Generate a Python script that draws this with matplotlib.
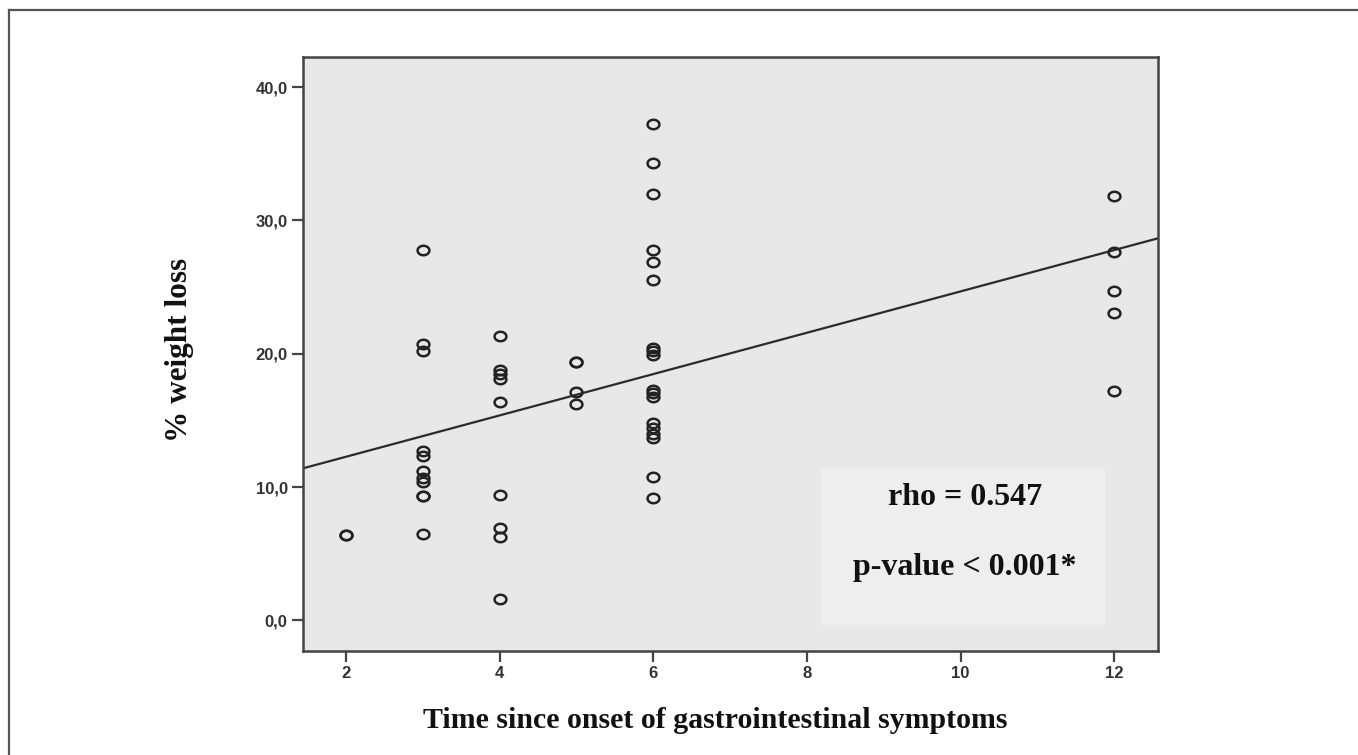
import matplotlib.pyplot as plt
import numpy as np
from matplotlib.path import Path
from matplotlib.lines import Line2D
from matplotlib.patches import Rectangle

# months since onset vs % weight loss
months = [2, 2,
          3, 3, 3, 3, 3, 3, 3, 3, 3, 3, 3,
          4, 4, 4, 4, 4, 4, 4, 4, 4,
          5, 5, 5, 5,
          6, 6, 6, 6, 6, 6, 6, 6, 6, 6, 6, 6, 6, 6, 6, 6, 6, 6,
          12, 12, 12, 12, 12]
weight_loss = [6.4, 6.4,
               27.8, 20.7, 20.2, 12.7, 12.3, 11.2, 10.7, 10.4, 9.3, 9.3, 6.5,
               21.35, 18.75, 18.45, 18.1, 16.4, 9.4, 6.9, 6.25, 1.6,
               19.4, 19.4, 17.1, 16.25,
               37.25, 34.3, 32.0, 27.75, 26.9, 25.5, 20.45, 20.2, 19.9,
               17.3, 17.05, 16.75, 14.8, 14.4, 14.0, 13.7, 10.75, 9.2,
               31.8, 27.6, 24.7, 23.05, 17.2]

# fit line as drawn in the figure
fit_intercept = 9.17
fit_slope = 1.55

x_ticks = [2, 4, 6, 8, 10, 12]
y_ticks = [0, 10, 20, 30, 40]
y_ticklabels = ["0,0", "10,0", "20,0", "30,0", "40,0"]

rho_text = "rho = 0.547"
p_text = "p-value < 0.001*"

fig = plt.figure(figsize=(13.58, 7.55), dpi=100)
ax = fig.add_axes([0.2231, 0.1377, 0.6296, 0.7868])
ax.set_facecolor("#e8e8e8")

xlim = (1.44, 12.57)
ax.set_xlim(*xlim)
ax.set_ylim(-2.3, 42.25)

# stats box behind everything
ax.add_patch(Rectangle((0.605, 0.044), 0.333, 0.264, transform=ax.transAxes,
                       facecolor="#eeeeee", edgecolor="#e9e9e9", lw=0.8, zorder=1))

xs = np.array(xlim)
ax.plot(xs, fit_intercept + fit_slope * xs, color="#2b2b2b", lw=1.6, zorder=2)

# slightly wide ellipse marker like the original
t = np.linspace(0, 2 * np.pi, 60)
ell = Path(np.column_stack([np.cos(t), 0.8 * np.sin(t)]), closed=True)
ax.plot(months, weight_loss, linestyle="none", marker=ell, markersize=8.5,
        markerfacecolor="none", markeredgecolor="#222222", markeredgewidth=1.8, zorder=3)

ax.text(0.774, 0.258, rho_text, transform=ax.transAxes, ha="center", va="center",
        fontsize=23, fontweight="bold", family="Liberation Serif", color="#111111", zorder=4)
ax.text(0.774, 0.141, p_text, transform=ax.transAxes, ha="center", va="center",
        fontsize=23, fontweight="bold", family="Liberation Serif", color="#111111", zorder=4)

ax.set_xticks(x_ticks)
ax.set_xticklabels([str(v) for v in x_ticks])
ax.set_yticks(y_ticks)
ax.set_yticklabels(y_ticklabels)
for lab in ax.get_xticklabels() + ax.get_yticklabels():
    lab.set_family("Liberation Sans")
    lab.set_fontweight("bold")
    lab.set_fontsize(12)
    lab.set_color("#333333")
ax.tick_params(length=8, width=1.6, color="#444444", pad=3)

for s in ax.spines.values():
    s.set_linewidth(1.8)
    s.set_color("#444444")

fig.text(0.1325, 0.536, "% weight loss", rotation=90, ha="center", va="center",
         fontsize=22.5, fontweight="bold", family="Liberation Serif", color="#111111")
fig.text(0.527, 0.046, "Time since onset of gastrointestinal symptoms", ha="center",
         va="center", fontsize=21.5, fontweight="bold", family="Liberation Serif", color="#111111")

# outer frame (only top and left edges show in the original)
fig.add_artist(Line2D([9 / 1358, 1], [1 - 10 / 755, 1 - 10 / 755], transform=fig.transFigure,
                      color="#555555", lw=1.6))
fig.add_artist(Line2D([9 / 1358, 9 / 1358], [0, 1 - 10 / 755], transform=fig.transFigure,
                      color="#555555", lw=1.6))

fig.savefig("out.png", dpi=100)
